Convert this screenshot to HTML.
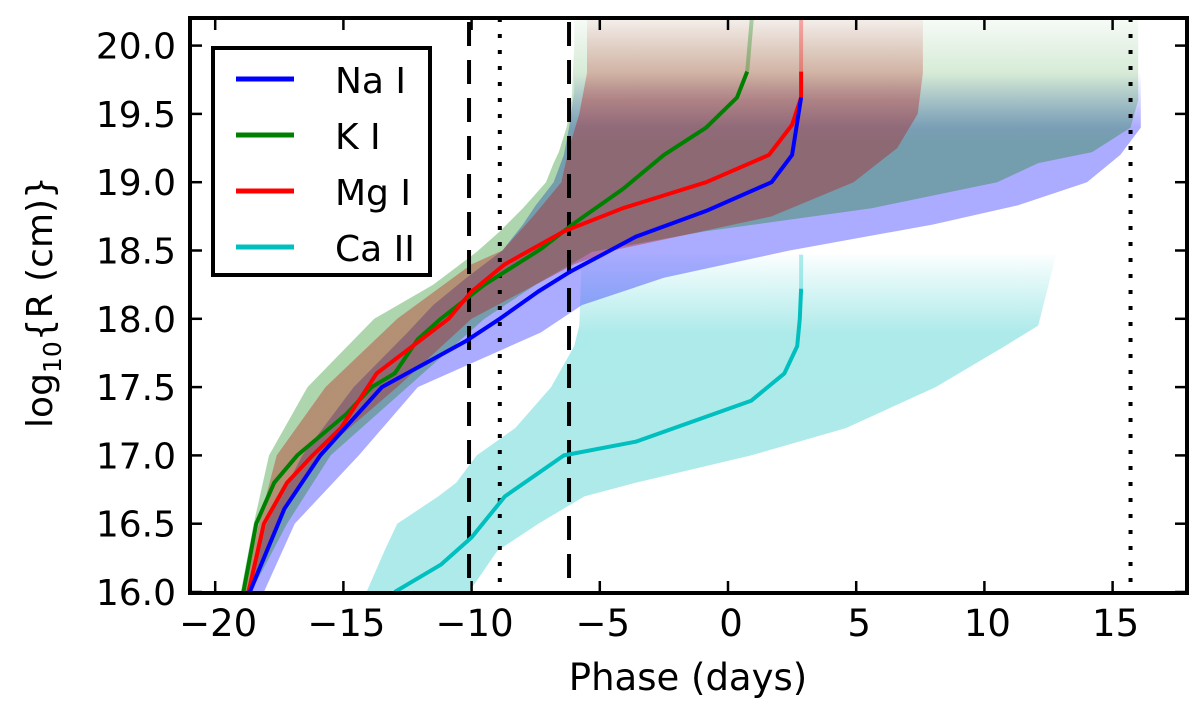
<!DOCTYPE html>
<html><head><meta charset="utf-8"><style>
html,body{margin:0;padding:0;background:#fff;}
svg{display:block;font-family:"DejaVu Sans","Liberation Sans",sans-serif;}
</style></head><body>
<svg id="chart" width="1200" height="713" viewBox="0 0 1200 713" xmlns="http://www.w3.org/2000/svg">
<defs id="defs"></defs>
<g id="bands"></g>
<g id="vlines"></g>
<g id="lines"></g>
<g id="axes"></g>
<g id="legend"></g>
</svg>
<script>
const xTicks=[-20,-15,-10,-5,0,5,10,15];
const yTicks=[16.0,16.5,17.0,17.5,18.0,18.5,19.0,19.5,20.0];
const seriesNames=["Na I","K I","Mg I","Ca II"];
const seriesColors=["#0000ff","#008000","#ff0000","#00bfbf"];
const dashedPhases=[-10.1,-6.2];
const dottedPhases=[-8.9,15.7];
// lines: log R values and phases
const naR=[16.0,16.61,17.0,17.5,17.84,18.0,18.2,18.34,18.6,18.79,19.0,19.2,19.62];
const naP=[-18.65,-17.3,-15.9,-13.5,-10.2,-8.9,-7.4,-6.2,-3.6,-0.85,1.7,2.5,2.85];
const kR=[16.0,16.5,16.8,17.0,17.3,17.5,17.6,17.85,18.0,18.25,18.51,18.7,18.95,19.2,19.4,19.62,19.81,20.25];
const kP=[-18.9,-18.4,-17.7,-16.8,-14.9,-13.9,-13.0,-12.1,-11.2,-9.5,-7.3,-6.0,-4.1,-2.5,-0.85,0.35,0.75,0.95];
const mgR=[16.0,16.5,16.8,17.0,17.2,17.6,17.8,18.0,18.2,18.4,18.64,18.81,19.0,19.2,19.42,19.62,19.81,20.25];
const mgP=[-18.7,-18.1,-17.2,-16.2,-15.1,-13.7,-12.3,-10.9,-10.0,-8.7,-6.4,-4.1,-0.85,1.6,2.5,2.85,2.85,2.85];
const caR=[16.0,16.2,16.4,16.7,17.0,17.1,17.4,17.6,17.8,18.0,18.22,18.47];
const caP=[-13.0,-11.2,-10.0,-8.7,-6.4,-3.6,0.9,2.2,2.7,2.8,2.85,2.85];
// bands: left/right edges
const kBandR=[16.0,16.5,17.0,17.5,18.0,18.25,18.49,18.64,18.81,19.0,19.14,19.22,19.4,19.6,20.0,20.25];
const kBandLo=[-19.0,-18.5,-17.9,-16.4,-13.8,-11.5,-9.8,-8.9,-8.0,-7.1,-6.8,-6.6,-6.3,-6.1,-6.0,-6.0];
const kBandHi=[-18.6,-17.2,-15.5,-12.5,-9.5,-7.5,-5.3,-0.9,5.6,10.5,12.1,14.2,15.7,16.0,16.0,16.0];
const mgBandR=[16.0,16.5,17.0,17.5,18.0,18.4,18.5,18.75,19.0,19.25,19.5,19.8,20.25];
const mgBandLo=[-18.9,-18.3,-17.6,-15.7,-12.9,-10.0,-8.8,-7.6,-6.5,-6.2,-5.8,-5.5,-5.5];
const mgBandHi=[-18.6,-17.6,-16.0,-12.9,-10.0,-6.0,-4.5,1.7,4.9,6.6,7.4,7.6,7.6];
const naBandR=[16.0,16.5,17.0,17.5,17.9,18.1,18.3,18.5,18.69,18.83,19.0,19.2,19.4,19.66,19.85];
const naBandLo=[-18.8,-18.0,-16.6,-14.6,-12.5,-11.5,-10.2,-8.8,-8.0,-7.5,-6.8,-6.4,-6.2,-6.0,-6.0];
const naBandHi=[-18.1,-16.9,-14.4,-12.1,-7.3,-5.7,-2.5,2.4,8.0,11.3,14.0,15.3,16.1,16.1,16.1];
const caBandR=[16.0,16.3,16.5,16.7,16.8,17.0,17.2,17.5,17.8,17.95,18.47];
const caBandLo=[-14.1,-13.4,-12.9,-11.3,-10.6,-9.8,-8.3,-6.9,-6.0,-5.8,-5.7];
const caBandHi=[-10.1,-9.0,-7.4,-5.6,-3.6,0.9,4.6,8.1,10.8,12.1,12.8];

const NS="http://www.w3.org/2000/svg";
const L=190,R=1187,T=18,B=593;
const X=p=>728+p*25.64;
const Y=v=>592-(v-16)*136.6;
function mk(tag,attrs,parent){const e=document.createElementNS(NS,tag);for(const k in attrs)e.setAttribute(k,attrs[k]);parent.appendChild(e);return e;}
const defs=document.getElementById('defs');
const clip=mk('clipPath',{id:'plotclip'},defs);
mk('rect',{x:L,y:T,width:R-L,height:B-T},clip);
function grad(id,color,op,fadeTop,fadeStart){
  const g=mk('linearGradient',{id:id,gradientUnits:'userSpaceOnUse',x1:0,x2:0,y1:Y(fadeTop),y2:Y(fadeStart)},defs);
  mk('stop',{offset:0,'stop-color':color,'stop-opacity':0},g);
  mk('stop',{offset:1,'stop-color':color,'stop-opacity':op},g);
}
grad('gCa','#00bfbf',0.32,18.5,17.9);
grad('gNa','#0000ff',0.33,19.8,19.4);
grad('gK','#008000',0.32,20.3,19.3);
grad('gMg','#c00000',0.33,20.3,19.6);

const bandsG=document.getElementById('bands');
bandsG.setAttribute('clip-path','url(#plotclip)');
function band(rs,lo,hi,fill,name){
  let pts=[];
  for(let i=0;i<rs.length;i++)pts.push(X(lo[i]).toFixed(1)+','+Y(rs[i]).toFixed(1));
  for(let i=rs.length-1;i>=0;i--)pts.push(X(hi[i]).toFixed(1)+','+Y(rs[i]).toFixed(1));
  const p=mk('polygon',{points:pts.join(' '),fill:fill},bandsG);
  
  
}
band(caBandR,caBandLo,caBandHi,'url(#gCa)','ca-ii-band');
band(naBandR,naBandLo,naBandHi,'url(#gNa)','na-i-band');
band(kBandR,kBandLo,kBandHi,'url(#gK)','k-i-band');
band(mgBandR,mgBandLo,mgBandHi,'url(#gMg)','mg-i-band');

const vl=document.getElementById('vlines');
dashedPhases.forEach(p=>{const l=mk('line',{x1:X(p),x2:X(p),y1:T,y2:B,stroke:'#000','stroke-width':4,'stroke-dasharray':'24,14','stroke-dashoffset':'-4'},vl);

});
dottedPhases.forEach(p=>{const l=mk('line',{x1:X(p),x2:X(p),y1:T,y2:B,stroke:'#000','stroke-width':4,'stroke-dasharray':'4,12'},vl);

});

const linesG=document.getElementById('lines');
linesG.setAttribute('clip-path','url(#plotclip)');
function line(rs,ps,color,name,fadeFrom){
  let solid=[],faded=[];
  for(let i=0;i<rs.length;i++){
    const pt=X(ps[i]).toFixed(1)+','+Y(rs[i]).toFixed(1);
    if(rs[i]<=fadeFrom)solid.push(pt);
    if(rs[i]>=fadeFrom-0.001)faded.push(pt);
  }
  if(faded.length>1){const f=mk('polyline',{points:faded.join(' '),fill:'none',stroke:color,'stroke-width':4,'stroke-opacity':0.3},linesG);
  
  }
  const p=mk('polyline',{points:solid.join(' '),fill:'none',stroke:color,'stroke-width':4,'stroke-linejoin':'round'},linesG);
  
  
}
line(caR,caP,seriesColors[3],'ca-ii-line',18.22);
line(kR,kP,seriesColors[1],'k-i-line',19.81);
line(mgR,mgP,seriesColors[2],'mg-i-line',19.81);
line(naR,naP,seriesColors[0],'na-i-line',19.62);

const ax=document.getElementById('axes');
xTicks.forEach(t=>{
  const x=X(t);
  const a=mk('line',{x1:x,x2:x,y1:B,y2:B-12,stroke:'#000','stroke-width':2.5},ax);
  
  
  const b=mk('line',{x1:x,x2:x,y1:T,y2:T+12,stroke:'#000','stroke-width':2.5},ax);
  
  
  const tx=mk('text',{x:x+3,y:636,'font-size':37,'text-anchor':'middle'},ax);
  tx.textContent=(t<0?'\u2212'+(-t):''+t);
  
  
});
yTicks.forEach(t=>{
  const y=Y(t);
  const a=mk('line',{x1:L,x2:L+12,y1:y,y2:y,stroke:'#000','stroke-width':2.5},ax);
  
  
  const b=mk('line',{x1:R,x2:R-12,y1:y,y2:y,stroke:'#000','stroke-width':2.5},ax);
  
  
  const tx=mk('text',{x:L-14,y:y+13,'font-size':36,'text-anchor':'end'},ax);
  tx.textContent=t.toFixed(1);
  
  
});
const frame=mk('rect',{x:L,y:T,width:R-L,height:B-T,fill:'none',stroke:'#000','stroke-width':4},ax);


const xl=mk('text',{x:688,y:690,'font-size':37,'text-anchor':'middle'},ax);
xl.textContent='Phase (days)';


const yl=mk('text',{x:0,y:0,'font-size':36,'text-anchor':'middle',transform:'translate(52,302) rotate(-90)'},ax);
yl.innerHTML='log<tspan font-size="25" dy="9">10</tspan><tspan dy="-9">{R (cm)}</tspan>';



const lg=document.getElementById('legend');
const box=mk('rect',{x:213,y:48,width:217,height:227,fill:'#fff',stroke:'#000','stroke-width':4},lg);


const ly=[79,135,191,247];
seriesNames.forEach((n,i)=>{
  const g=mk('g',{},lg);
  
  
  mk('line',{x1:236,x2:294,y1:ly[i],y2:ly[i],stroke:seriesColors[i],'stroke-width':5},g);
  const t=mk('text',{x:335,y:ly[i]+14,'font-size':36},g);
  t.textContent=n;
});
</script>
</body></html>
